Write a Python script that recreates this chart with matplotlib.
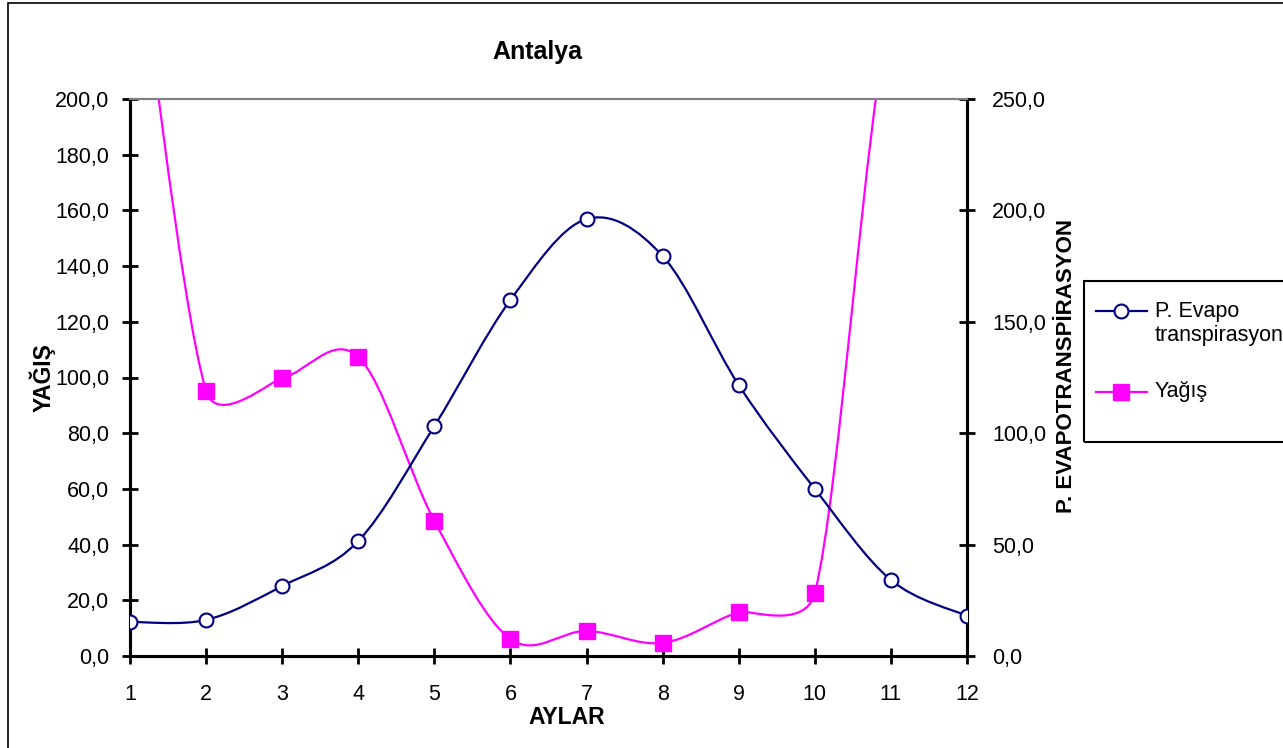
import matplotlib

matplotlib.use("Agg")
import matplotlib.pyplot as plt
import numpy as np
from matplotlib.lines import Line2D
from matplotlib.path import Path
from matplotlib.patches import PathPatch, Rectangle

plt.rcParams["font.family"] = ["Liberation Sans", "DejaVu Sans"]

# data
months = [1, 2, 3, 4, 5, 6, 7, 8, 9, 10, 11, 12]
evapo = [15.3, 16.2, 31.4, 51.6, 103.2, 159.8, 196.1, 179.5, 121.6, 75.0, 34.1, 18.0]
yagis = [280.0, 95.2, 99.8, 107.4, 48.5, 6.1, 9.0, 4.7, 15.8, 22.6, 232.0, 240.0]  # 1, 11, 12 off-scale (estimated)
left_ticks = [0, 20, 40, 60, 80, 100, 120, 140, 160, 180, 200]
right_ticks = [0, 50, 100, 150, 200, 250]

NAVY = "#000080"
MAGENTA = "#FF00FF"
W, H = 1283, 748


def excel_smooth(ax, x, y):
    """Excel-style smoothed line: Bezier segments, control arms capped at half a segment (in pixels)."""
    pts = np.column_stack([x, y]).astype(float)
    pix = ax.transData.transform(pts)
    n = len(pts)
    verts, codes = [pts[0]], [Path.MOVETO]
    for i in range(n - 1):
        a, b = max(i - 1, 0), min(i + 2, n - 1)
        d12 = np.hypot(*(pix[i + 1] - pix[i]))
        d02 = np.hypot(*(pix[i + 1] - pix[a]))
        d13 = np.hypot(*(pix[b] - pix[i]))
        f1 = f2 = 1 / 6
        if d02 / 6 >= d12 / 2 and d13 / 6 >= d12 / 2:
            f1, f2 = d12 / (2 * d02), d12 / (2 * d13)
        elif d02 / 6 >= d12 / 2:
            f1 = f2 = d12 / (2 * d02)
        elif d13 / 6 >= d12 / 2:
            f1 = f2 = d12 / (2 * d13)
        c1 = pts[i] + f1 * (pts[i + 1] - pts[a])
        c2 = pts[i + 1] - f2 * (pts[b] - pts[i])
        verts += [c1, c2, pts[i + 1]]
        codes += [Path.CURVE4] * 3
    return Path(verts, codes)


def fmt(v):
    return f"{v:.1f}".replace(".", ",")


fig = plt.figure(figsize=(W / 100, H / 100), dpi=100)
fig.patches.append(Rectangle((8 / W, -0.1), 1.2, 1.1 - 3 / H, transform=fig.transFigure,
                             fill=False, edgecolor="black", linewidth=1.2))

ax = fig.add_axes([130 / W, 1 - 656 / H, 837 / W, 557 / H])
ax2 = ax.twinx()

ax.set_xlim(1, 12)
ax.set_ylim(0, 200)
ax2.set_ylim(0, 250)

# Yağış on left axis
ax.add_patch(PathPatch(excel_smooth(ax, months, yagis), fill=False, edgecolor=MAGENTA, lw=1.6, zorder=2))
ax.plot(months, yagis, ls="none", marker="s", ms=11, mfc=MAGENTA, mec=MAGENTA, zorder=3)

# Evapotranspirasyon on right axis
ax2.add_patch(PathPatch(excel_smooth(ax2, months, evapo), fill=False, edgecolor=NAVY, lw=1.6, zorder=2))
ax2.plot(months, evapo, ls="none", marker="o", ms=10, mfc="white", mec=NAVY, mew=1.5, zorder=3)

ax.set_xticks(months)
ax.set_yticks(left_ticks)
ax.set_yticklabels([fmt(v) for v in left_ticks])
ax2.set_yticks(right_ticks)
ax2.set_yticklabels([fmt(v) for v in right_ticks])

for a in (ax, ax2):
    a.tick_params(labelsize=15.5, width=2, length=12, direction="inout")
    a.spines["top"].set_color("#808080")
    a.spines["top"].set_linewidth(1.5)
    for s in ("left", "right", "bottom"):
        a.spines[s].set_linewidth(2.2)
ax.tick_params(axis="x", pad=14)
ax.tick_params(axis="y", pad=9)
ax2.tick_params(axis="y", pad=12)

ax.set_ylabel("YAĞIŞ", fontsize=16.5, fontweight="bold", va="center")
ax.yaxis.set_label_coords((42 - 130) / 837, 0.5)
ax2.set_ylabel("P. EVAPOTRANSPİRASYON", fontsize=16, fontweight="bold", va="center")
ax2.yaxis.set_label_coords((1066 - 130) / 837, 0.52)
ax.set_xlabel("AYLAR", fontsize=16.5, fontweight="bold", va="center")
ax.xaxis.set_label_coords((567 - 130) / 837, -(718 - 656) / 557)

fig.text(537 / W, 1 - 52 / H, "Antalya", ha="center", va="center", fontsize=18, fontweight="bold")

# legend box drawn like the Excel one
fig.patches.append(Rectangle((1084 / W, 1 - 442 / H), 0.2, (442 - 281) / H, transform=fig.transFigure,
                             fill=False, edgecolor="black", linewidth=1.5))
fig.lines.append(Line2D([1096 / W, 1147 / W], [1 - 311 / H] * 2, transform=fig.transFigure,
                        color=NAVY, lw=1.6))
fig.lines.append(Line2D([1121 / W], [1 - 311 / H], transform=fig.transFigure, ls="none",
                        marker="o", ms=10, mfc="white", mec=NAVY, mew=1.5))
fig.lines.append(Line2D([1096 / W, 1147 / W], [1 - 392 / H] * 2, transform=fig.transFigure,
                        color=MAGENTA, lw=1.6))
fig.lines.append(Line2D([1121 / W], [1 - 392 / H], transform=fig.transFigure, ls="none",
                        marker="s", ms=11, mfc=MAGENTA, mec=MAGENTA))
fig.text(1155 / W, 1 - 311 / H, "P. Evapo", ha="left", va="center", fontsize=15.5)
fig.text(1155 / W, 1 - 336 / H, "transpirasyon", ha="left", va="center", fontsize=15.5)
fig.text(1155 / W, 1 - 392 / H, "Yağış", ha="left", va="center", fontsize=15.5)

fig.savefig("out.png", dpi=100)
